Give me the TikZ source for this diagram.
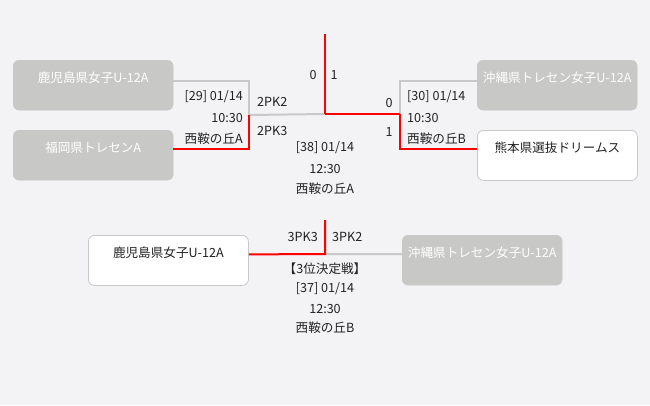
\documentclass[tikz,border=0pt]{standalone}
\usepackage{fontspec}
\setmainfont{Noto Sans CJK JP}
\definecolor{bgc}{HTML}{F3F2F5}
\definecolor{boxgray}{HTML}{C8C9C6}
\definecolor{linegray}{HTML}{C8C8C8}
\definecolor{redc}{HTML}{FF0000}
\definecolor{txt}{HTML}{222222}
\begin{document}
\begin{tikzpicture}[x=1pt,y=-1pt,
  every node/.style={font=\fontsize{12.6}{14}\selectfont, text=txt, inner sep=0pt},
  teambox/.style={rounded corners=6pt, minimum width=160pt, minimum height=50pt, anchor=north west},
  lost/.style={teambox, fill=boxgray, draw=boxgray},
  won/.style={teambox, fill=white, draw=linegray, line width=0.8pt},
  lostname/.style={text=white},
  wonname/.style={text=txt},
  grayline/.style={draw=linegray, line width=2pt},
  redline/.style={draw=redc, line width=2pt},
]
\fill[bgc] (0,0) rectangle (650,405);
\useasboundingbox (0,0) rectangle (650,405);

% team boxes
\node[lost] (b1) at (13,60) {};
\node[lost] (b2) at (13,130) {};
\node[lost] (b3) at (477,60) {};
\node[won]  (b4) at (477,130) {};
\node[won]  (b5) at (88,235) {};
\node[lost] (b6) at (402,235) {};

\node[lostname] (t1) at ([yshift=-18pt]b1.north) {鹿児島県女子U-12A};
\node[lostname] (t2) at ([yshift=-18pt]b2.north) {福岡県トレセンA};
\node[lostname] (t3) at ([yshift=-18pt]b3.north) {沖縄県トレセン女子U-12A};
\node[wonname]  (t4) at ([yshift=-18pt]b4.north) {熊本県選抜ドリームス};
\node[wonname]  (t5) at ([yshift=-18pt]b5.north) {鹿児島県女子U-12A};
\node[lostname] (t6) at ([yshift=-18pt]b6.north) {沖縄県トレセン女子U-12A};

% junctions
\coordinate (m29) at (249,115);
\coordinate (m30) at (400,114);
\coordinate (cf) at (325,114);
\coordinate (topf) at (325,34);
\coordinate (c3) at (325,254);
\coordinate (top3) at (325,220);

% connectors
\draw[grayline] ([yshift=4.5pt]b1.east) -| (m29);
\draw[grayline] (m29) -- (cf);
\draw[grayline] ([yshift=4.5pt]b3.west) -| (m30);
\draw[redline] ([yshift=6pt]b2.east) -| (m29);
\draw[redline] ([yshift=6pt]b4.west) -| (m30);
\draw[redline] (m30) -- (cf);
\draw[redline] (topf) -- (cf);
\draw[grayline] (c3) -- ([yshift=6pt]b6.west);
\draw[redline] ([yshift=6pt]b5.east) -- (c3) -- (top3);

% scores
\node (s1) at (313,75) {0};
\node (s2) at (334,75) {1};
\node[anchor=west] (p1) at (257,102) {2PK2};
\node[anchor=west] (p2) at (257,131) {2PK3};
\node (s3) at (389,103) {0};
\node (s4) at (389,132) {1};
\node[anchor=east] (p3) at (318,237) {3PK3};
\node[anchor=west] (p4) at (332,237) {3PK2};

% match info
\node[anchor=east] (i29a) at (243,97) {[29] 01/14};
\node[anchor=east] (i29b) at (243,118) {10:30};
\node[anchor=east] (i29c) at (243,139) {西鞍の丘A};
\node[anchor=west] (i30a) at (407,97) {[30] 01/14};
\node[anchor=west] (i30b) at (407,118) {10:30};
\node[anchor=west] (i30c) at (407,139) {西鞍の丘B};
\node (i38a) at (325,148) {[38] 01/14};
\node (i38b) at (325,169) {12:30};
\node (i38c) at (325,189) {西鞍の丘A};
\node (i37t) at (325,269) {【3位決定戦】};
\node (i37a) at (325,289) {[37] 01/14};
\node (i37b) at (325,309) {12:30};
\node (i37c) at (325,328) {西鞍の丘B};
\end{tikzpicture}
\end{document}
